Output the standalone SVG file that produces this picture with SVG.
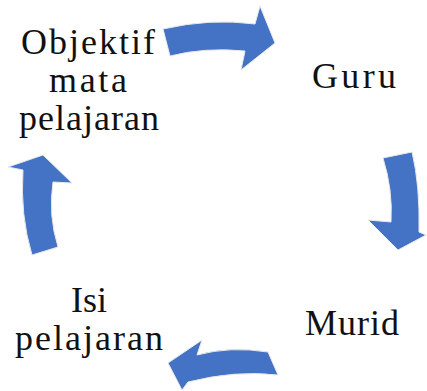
<svg xmlns="http://www.w3.org/2000/svg" width="427" height="391" viewBox="0 0 427 391">
<style>
.arr{fill:#4472C4;stroke:#e8e8e8;stroke-width:1;stroke-linejoin:round}
.t{font-family:"Liberation Serif","Times New Roman",serif;font-size:36px;fill:#111;text-anchor:middle}
</style>
<rect width="427" height="391" fill="#fff"/>
<g id="connectors">
<path class="arr" d="M163,29 Q210,18 255,24 L260,6 L275,43 L241,70 L245,51 Q205,47 170,56 Z"/>
<path class="arr" d="M383,158 Q393,190 391,222 L368,220 L398,250 L426,235 L419,232 Q420,185 412,152 Z"/>
<path class="arr" d="M268,352 Q230,346 197,355 L202,340 L168,363 L182,390 L188,382 Q235,370 278,375 Z"/>
<path class="arr" d="M43,155 L8,167 L23,170 Q20,215 32,255 L58,247 Q48,215 53,182 L72,183 Z"/>
</g>
<g id="objektif"><text class="t" x="88" y="54"><tspan x="88" textLength="134">Objektif</tspan><tspan x="88" dy="38" textLength="78">mata</tspan><tspan x="89" dy="38" textLength="140">pelajaran</tspan></text></g>
<g id="guru"><text class="t" x="354" y="88" textLength="84">Guru</text></g>
<g id="murid"><text class="t" x="352" y="335" textLength="94">Murid</text></g>
<g id="isi"><text class="t" x="89" y="312">Isi<tspan x="89" dy="38" textLength="148">pelajaran</tspan></text></g>
</svg>
